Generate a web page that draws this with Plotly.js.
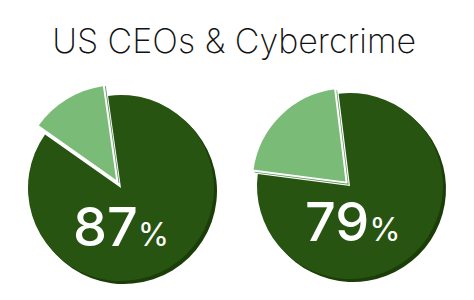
<!DOCTYPE html>
<html>
<head>
<meta charset="utf-8">
<script src="https://cdn.plot.ly/plotly-3.0.1.min.js"></script>
<style>html,body{margin:0;padding:0;background:#fff;}#chart{width:474px;height:300px;}</style>
</head>
<body>
<div id="chart"></div>
<script>
// Data
const titleText = "US CEOs & Cybercrime";
const sliceLabels = ["Yes", "No"];
const leftValues = [87, 13];
const rightValues = [79, 21];
const leftLabel = "87";
const rightLabel = "79";

const W = 474, H = 300;
const DARK = "#275410", DARK_EDGE = "#1b3d08", LIGHT = "#7bbb78", LIGHT_EDGE = "#5f9a5c";
const CLEAR = "rgba(0,0,0,0)";

function dom(cx, cy, half) {
  return {x: [(cx - half) / W, (cx + half) / W], y: [(H - cy - half) / H, (H - cy + half) / H]};
}
function pieTrace(values, cx, cy, r, pull, colors, lines, rotation) {
  return {
    type: "pie", labels: sliceLabels, values: values, sort: false, direction: "clockwise",
    rotation: rotation, textinfo: "none", hoverinfo: "label+value", showlegend: false,
    pull: [0, pull], domain: dom(cx, cy, r * (1 + pull)),
    marker: {colors: colors, line: {color: "#ffffff", width: lines}}
  };
}
const data = [
  // left pie
  pieTrace(leftValues, 124, 191, 93, 0, [DARK_EDGE, CLEAR], [0, 0], -8),
  pieTrace(leftValues, 121, 188, 93, 0, [DARK, CLEAR], [0, 0], -8),
  pieTrace(leftValues, 123, 189, 98, 0.07, [CLEAR, LIGHT_EDGE], [0, 0], -8),
  pieTrace(leftValues, 121, 188, 98, 0.07, [CLEAR, LIGHT], [0, 2], -8),
  // right pie
  pieTrace(rightValues, 353, 189, 93, 0, [DARK_EDGE, CLEAR], [0, 0], -7),
  pieTrace(rightValues, 350, 186, 93, 0, [DARK, CLEAR], [0, 0], -7),
  pieTrace(rightValues, 352, 188, 95, 0.05, [CLEAR, LIGHT_EDGE], [0, 0], -7),
  pieTrace(rightValues, 350, 186, 95, 0.05, [CLEAR, LIGHT], [0, 2], -7)
];
const pctFont = 'font-size:32px;font-weight:400';
const layout = {
  width: W, height: H,
  margin: {l: 0, r: 0, t: 0, b: 0},
  paper_bgcolor: "#ffffff",
  title: {text: titleText, x: 0.494, xanchor: "center", y: 1 - 41 / H, yanchor: "middle",
          font: {family: "Inter, Liberation Sans, sans-serif", size: 34, color: "#111111", weight: 200}},
  annotations: [
    {text: leftLabel + '<span style="' + pctFont + '">%</span>', x: 121.5 / W, y: 1 - 226 / H,
     xref: "paper", yref: "paper", xanchor: "center", yanchor: "middle", showarrow: false,
     font: {family: "Inter, Open Sans, sans-serif", size: 54, color: "#ffffff", weight: 500}},
    {text: rightLabel + '<span style="' + pctFont + '">%</span>', x: 352.5 / W, y: 1 - 221 / H,
     xref: "paper", yref: "paper", xanchor: "center", yanchor: "middle", showarrow: false,
     font: {family: "Inter, Open Sans, sans-serif", size: 54, color: "#ffffff", weight: 500}}
  ]
};
Plotly.newPlot("chart", data, layout, {displayModeBar: false, staticPlot: true});
</script>
</body>
</html>
